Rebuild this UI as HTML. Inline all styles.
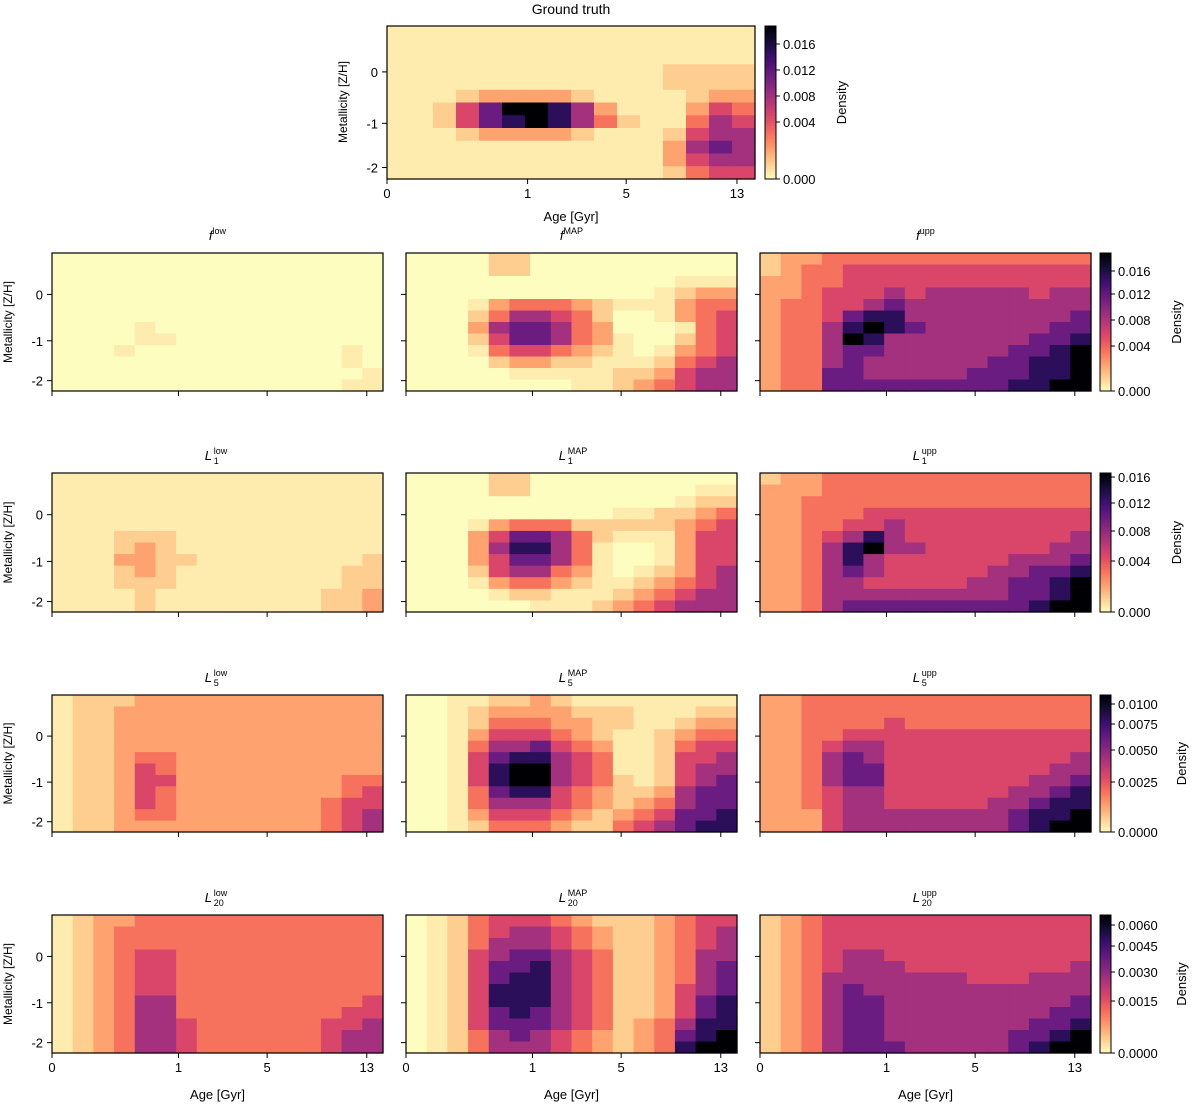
<!DOCTYPE html>
<html><head><meta charset="utf-8"><style>
html,body{margin:0;padding:0;background:#fff;}
svg text{font-family:"Liberation Sans","DejaVu Sans",sans-serif;fill:#000;}
</style></head><body>
<svg id="fig" width="1200" height="1106" viewBox="0 0 1200 1106" xmlns="http://www.w3.org/2000/svg"></svg>
<script>
// ---- data: normalized density levels (0..9), 12 metallicity rows (top→bottom) x 16 age bins ----
const gtLevels = ["1111111111111111","1111111111111111","1111111111111111","1111111111112222","1111111111112222","1112333321111233","1125799863111354","1125789864211465","1112333321112566","1111111111113676","1111111111113566","1111111111112455"];
const fLow = ["0000000000000000","0000000000000000","0000000000000000","0000000000000000","0000000000000000","0000000000000000","0000100000000000","0000110000000000","0001000000000010","0000000000000010","0000000000000001","0000000000000011"];
const fMap = ["0000220000000000","0000220000000000","0000000000000111","0000000000001233","0001344432111344","0002466542001345","0003677643000145","0002577643100245","0001455432101345","0000233221112456","0000011111223566","0000000011234566"];
const fUpp = ["2334444444444444","2344555555555555","3344555555555555","3345556566666566","3445567666666666","3445788666666667","3446898766666677","3446986666666778","3446776666667789","3446766666677889","3447766666777889","3447777777778899"];
const l1Low = ["1111111111111111","1111111111111111","1111111111111111","1111111111111111","1111111111111111","1112221111111111","1112321111111111","1113322111111112","1112321111111122","1112221111111122","1111211111111223","1111211111111223"];
const l1Map = ["0000220000000000","0000220000000011","0000000000000122","0000000000112234","0001344422222345","0003577642111355","0003688641001355","0003577641001355","0002566431012356","0001344321123456","0000122111234566","0000001112345666"];
const l1Upp = ["2334444444444444","3334444444444444","3344444444444444","3344455555555555","3344556555555555","3345686555555556","3346896655555566","3346865555556667","3346765555566778","3346655555667789","3346666666667789","3346777777777899"];
const l5Low = ["1222333333333333","1223333333333333","1223333333333333","1223333333333333","1223333333333333","1223443333333333","1223543333333333","1223553333333344","1223543333333345","1223543333333455","1223443333333456","1223333333333456"];
const l5Map = ["0011223211111111","0012333322211122","0012444332211233","0013555432112344","0014667543112455","0015788654112556","0015899654112566","0015899654212567","0014788543223677","0014666543234677","0013555432345778","0012444322456788"];
const l5Upp = ["3344444444444444","3344444444444444","3344445444444444","3344555555555555","3345665555555555","3346765555555556","3346775555555566","3346775555555667","3345665555556678","3345665555566788","3335666666667889","3335666666667899"];
const l20Low = ["1233444444444444","1234444444444444","1234444444444444","1234554444444444","1234554444444444","1234554444444444","1234554444444444","1234664444444445","1234664444444455","1234665444444556","1234665444444566","1234665444444566"];
const l20Map = ["0124555432223455","0124566543223456","0124666543223456","0125677654223466","0125778654223467","0125788654223467","0125888654223567","0125888654223578","0125787654223578","0125777654234688","0124676543234789","0124666543234899"];
const l20Upp = ["2345555555555555","2345555555555555","2345555555555555","2345665555555555","2345666555555556","2346666666555666","2346766666666666","2346776666666667","2346776666666677","2346776666666778","2346776666667789","2346777666667899"];
const xTickLabels = ["0","1","5","13"];
const yTickLabels = ["0","-1","-2"];
const cbGT = ["0.016","0.012","0.008","0.004","0.000"];
const cbF = ["0.016","0.012","0.008","0.004","0.000"];
const cbL1 = ["0.016","0.012","0.008","0.004","0.000"];
const cbL5 = ["0.0100","0.0075","0.0050","0.0025","0.0000"];
const cbL20 = ["0.0060","0.0045","0.0030","0.0015","0.0000"];

// ---- layout ----
const NS="http://www.w3.org/2000/svg";
const svg=document.getElementById('fig');
const magma=["#000004","#140e36","#3b0f70","#641a80","#8c2981","#b73779","#de4968","#f7705c","#fe9f6d","#fecf92","#fcfdbf"];
function hex(h){return [parseInt(h.slice(1,3),16),parseInt(h.slice(3,5),16),parseInt(h.slice(5,7),16)];}
function cmap(t){ // t: 0 light -> 1 dark (magma_r)
  const p=Math.max(0,Math.min(1,1-t))*10;const i=Math.min(9,Math.floor(p));const f=p-i;
  const a=hex(magma[i]),b=hex(magma[i+1]);
  return "rgb("+a.map((v,k)=>Math.round(v+(b[k]-v)*f)).join(",")+")";}
function levelColor(L){return cmap(Math.pow(L/9,1.5));}
function el(tag,attrs,parent){const e=document.createElementNS(NS,tag);for(const k in attrs)e.setAttribute(k,attrs[k]);(parent||svg).appendChild(e);return e;}
function txt(s,attrs,parent){const e=el('text',attrs,parent);e.textContent=s;return e;}
const xTickFrac=[0,0.382,0.65,0.951];
const yTickFrac=[0.30,0.636,0.925];

function heatmap(name,data,x,y,w,h,showYLabels,showXLabels){
  const g=el('g',{});
  
  
  const rows=data.length,cols=data[0].length;
  for(let r=0;r<rows;r++)for(let c=0;c<cols;c++){
    const v=Number(data[r][c]);
    const x0=x+c*w/cols,y0=y+r*h/rows;
    const rc=el('rect',{x:x0.toFixed(2),y:y0.toFixed(2),width:(w/cols+0.6).toFixed(2),height:(h/rows+0.6).toFixed(2),fill:levelColor(v)},g);
    
    
  }
  const fr=el('rect',{x:x,y:y,width:w,height:h,fill:'none',stroke:'#000','stroke-width':1.2},g);
  
  
  xTickFrac.forEach((f,i)=>{const tx=x+f*w;el('line',{x1:tx,y1:y+h,x2:tx,y2:y+h+5,stroke:'#000'},g);
    if(showXLabels){const t=txt(xTickLabels[i],{x:tx,y:y+h+19,'font-size':13,'text-anchor':'middle'},g);
      
      }});
  yTickFrac.forEach((f,i)=>{const ty=y+f*h;el('line',{x1:x-5,y1:ty,x2:x,y2:ty,stroke:'#000'},g);
    if(showYLabels){const t=txt(yTickLabels[i],{x:x-9,y:ty+5,'font-size':13,'text-anchor':'end'},g);
      
      }});
  return g;
}
function colorbar(name,labels,x,y,w,h,tickYs,labelX){
  const g=el('g',{});
  
  
  const n=60;
  for(let i=0;i<n;i++){el('rect',{x:x,y:(y+h-(i+1)*h/n).toFixed(2),width:w,height:(h/n+0.6).toFixed(2),fill:cmap((i+0.5)/n)},g);}
  el('rect',{x:x,y:y,width:w,height:h,fill:'none',stroke:'#000','stroke-width':1},g);
  labels.forEach((s,i)=>{const ty=tickYs[i];el('line',{x1:x+w,y1:ty,x2:x+w+4,y2:ty,stroke:'#000'},g);
    const t=txt(s,{x:x+w+7,y:ty+5,'font-size':13},g);
    
    });
  const d=txt('Density',{x:labelX,y:y+h/2,'font-size':13,'text-anchor':'middle',transform:'rotate(-90 '+labelX+' '+(y+h/2)+')'},g);
  
  
}
function fTitle(sup,cx,y,name){
  const t=el('text',{x:cx,y:y,'font-size':13,'text-anchor':'middle'});
  
  
  const a=el('tspan',{'font-style':'italic'},t);a.textContent='f';
  const b=el('tspan',{'font-size':9,dy:-6},t);b.textContent=sup;
}
function lTitle(sub,sup,cx,y,name){
  const g=el('g',{});
  
  
  const w=sup.length*5.5;
  const x0=cx-(9+w)/2;
  txt('L',{x:x0,y:y,'font-size':13,'font-style':'italic'},g);
  txt(sub,{x:x0+9,y:y+4,'font-size':9},g);
  txt(sup,{x:x0+9,y:y-6,'font-size':9},g);
}
function ylabel(x,cy){const t=txt('Metallicity [Z/H]',{x:x,y:cy,'font-size':12,'text-anchor':'middle',transform:'rotate(-90 '+x+' '+cy+')'});
  
  }
function xlabel(cx,y){const t=txt('Age [Gyr]',{x:cx,y:y,'font-size':13,'text-anchor':'middle'});
  
  }

// ground truth
const gt=txt('Ground truth',{x:571,y:14,'font-size':14,'text-anchor':'middle'});


heatmap('ground-truth-heatmap',gtLevels,387,26,368,153,true,true);
ylabel(347,102);xlabel(571,221);
colorbar('ground-truth-colorbar',cbGT,765,26,11,153,[44,70,96,122,179],846);

const colX=[52,406,760],colW=331;
const rowY=[253,473,695,915],rowH=[138,139,137,138];
const grid=[[fLow,fMap,fUpp],[l1Low,l1Map,l1Upp],[l5Low,l5Map,l5Upp],[l20Low,l20Map,l20Upp]];
const rowNames=['f','l1','l5','l20'],colNames=['low','map','upp'];
const supText=['low','MAP','upp'];
const subText=[null,'1','5','20'];
for(let r=0;r<4;r++){
  for(let c=0;c<3;c++){
    heatmap(rowNames[r]+'-'+colNames[c]+'-heatmap',grid[r][c],colX[c],rowY[r],colW,rowH[r],c===0,r===3);
    const cx=colX[c]+colW/2, ty=rowY[r]-13;
    if(r===0) fTitle(supText[c],cx,ty,rowNames[r]+'-'+colNames[c]+'-title');
    else lTitle(subText[r],supText[c],cx,ty,rowNames[r]+'-'+colNames[c]+'-title');
  }
  ylabel(12,rowY[r]+rowH[r]/2);
}
[0,1,2].forEach(c=>xlabel(colX[c]+colW/2,1099));
colorbar('f-colorbar',cbF,1100,253,11,138,[271,294,320,346,391],1181);
colorbar('l1-colorbar',cbL1,1100,473,11,139,[477,503,531,561,612],1181);
colorbar('l5-colorbar',cbL5,1100,695,11,137,[704,724,750,782,832],1186);
colorbar('l20-colorbar',cbL20,1100,915,11,138,[925,946,972,1001,1053],1186);
</script>
</body></html>
